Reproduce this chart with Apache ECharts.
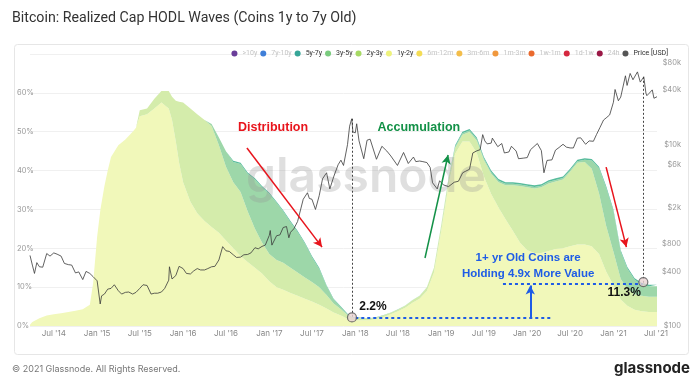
<!DOCTYPE html>
<html><head><meta charset="utf-8">
<script src="https://cdn.jsdelivr.net/npm/echarts@6/dist/echarts.min.js"></script>
<style>html,body{margin:0;padding:0;background:#fff;}#c{width:699px;height:391px;}</style>
</head><body><div id="c"></div>
<script>
// ---- data ----
const dates = ['2014-03-22','2014-04-01','2014-05-01','2014-06-01','2014-07-01','2014-08-01','2014-09-01','2014-10-01','2014-11-01','2014-12-01','2014-12-15',
'2015-01-01','2015-01-15','2015-02-01','2015-02-15','2015-03-01','2015-04-01','2015-05-01','2015-06-01','2015-06-15','2015-07-01','2015-08-01','2015-09-01','2015-10-01','2015-11-01','2015-11-15','2015-12-01','2015-12-15',
'2016-01-01','2016-02-01','2016-03-01','2016-04-01','2016-05-01','2016-06-01','2016-07-01','2016-08-01','2016-09-01','2016-10-01','2016-11-01','2016-12-01',
'2017-01-01','2017-02-01','2017-03-01','2017-04-01','2017-05-01','2017-06-01','2017-07-01','2017-08-01','2017-09-01','2017-10-01','2017-11-01','2017-12-01','2017-12-20',
'2018-01-01','2018-02-01','2018-03-01','2018-04-01','2018-05-01','2018-06-01','2018-07-01','2018-08-01','2018-09-01','2018-10-01','2018-11-01','2018-12-01',
'2019-01-01','2019-02-01','2019-03-01','2019-04-01','2019-05-01','2019-06-01','2019-07-01','2019-08-01','2019-09-01','2019-10-01','2019-11-01','2019-12-01',
'2020-01-01','2020-02-01','2020-03-01','2020-04-01','2020-05-01','2020-06-01','2020-07-01','2020-08-01','2020-09-01','2020-10-01','2020-11-01','2020-12-01',
'2021-01-01','2021-02-01','2021-03-01','2021-04-01','2021-05-01','2021-06-01','2021-07-05'];
const hodl1y2y = [0.3,1.0,2.0,2.7,3.0,3.3,3.6,3.9,4.3,5.5,11,
23,30,36,40,43.5,46.5,48,50,51,54,54.5,56,57.5,56,53,47.5,42,
37,32,29,27,25.5,24,22,20,18,16.5,15,13.5,
11.5,10,9.3,8.5,7.8,7,6.3,5.5,4.5,3.5,2.7,1.8,1.4,
1.5,1.5,1.5,1.8,2.3,3.0,3.8,4.7,6.0,7.0,9.0,13.8,
24.5,36.3,44.3,47.5,47.5,44.5,38.5,34,30.5,27.5,24.5,21.5,
19.5,18.8,18.8,19.3,19.8,20,20.5,21,21,20.5,18.5,14,
10.5,6.8,5.2,4.2,3.8,3.6,3.6];
const hodl2y3y = [0,0,0,0,0,0,0,0,0,0,0,
0,0,0,0,0,0,0,0,0,1.5,1.5,2.5,3,4.5,6,10.5,15.7,
20.5,24,25.5,26,26,22.5,19,17,16.5,13,10,8,
7,7,7,6.5,6,5.5,5,4.5,3.5,2.3,1.6,0.9,0.6,
0.6,0.5,0.4,0.4,0.4,0.4,0.4,0.5,0.6,0.7,0.9,1.1,
1.3,1.4,1.5,1.7,2.4,3.2,4.2,5.2,6.5,8.7,11.7,14.5,
16.2,16.6,16.9,17.4,17.4,17.7,19.2,21,21.2,20,15.6,11.8,
8.6,5.3,4.4,4,4,3.9,3.9];
const hodl3y5y = [0,0,0,0,0,0,0,0,0,0,0,
0,0,0,0,0,0,0,0,0,0,0,0,0,0,0,0,0,
0,0,0,0,0.5,2,4,5.2,7.2,9.7,12.7,14.2,
15.5,14.7,13.2,11.7,10.4,8.7,6.4,4.7,2.3,1,0.5,0.2,0.1,
0.1,0.1,0.1,0.1,0.1,0.1,0.1,0.1,0.1,0.1,0.1,0.1,
0.2,0.3,0.4,0.4,0.4,0.4,0.4,0.4,0.4,0.4,0.4,0.4,
0.4,0.4,0.4,0.4,0.4,0.4,0.4,0.4,0.6,2.1,6.5,9.8,
10.5,7,5.2,3.7,2.9,2.7,2.7];
const hodl5y7y = [0,0,0,0,0,0,0,0,0,0,0,
0,0,0,0,0,0,0,0,0,0,0,0,0,0,0,0,0,
0,0,0,0,0,0,0,0.3,0.3,0.3,0.3,0.3,
0.3,0.3,0.3,0.3,0.3,0.3,0.3,0.3,0.2,0.2,0.2,0.1,0.1,
0.1,0,0,0,0,0,0,0,0,0,0,0,
0,0,0.3,0.4,0.4,0.4,0.4,0.4,0.4,0.4,0.4,0.4,
0.4,0.4,0.4,0.4,0.4,0.4,0.4,0.4,0.4,0.4,0.4,0.4,
0.4,0.4,0.4,0.4,0.4,0.4,0.4];

const priceDates = ['2014-03-22','2014-04-01','2014-04-10','2014-04-20','2014-05-01','2014-05-15','2014-06-01','2014-06-15','2014-07-01','2014-07-15','2014-08-01','2014-08-15','2014-09-01','2014-09-15','2014-10-01','2014-10-15','2014-11-01','2014-11-15','2014-12-01','2014-12-15',
'2015-01-01','2015-01-14','2015-01-20','2015-02-01','2015-02-15','2015-03-01','2015-03-15','2015-04-01','2015-04-15','2015-05-01','2015-05-15','2015-06-01','2015-06-15','2015-07-01','2015-07-15','2015-08-01','2015-08-18','2015-09-01','2015-09-15','2015-10-01','2015-10-15','2015-11-01','2015-11-04','2015-11-15','2015-12-01','2015-12-15',
'2016-01-01','2016-01-15','2016-02-01','2016-02-15','2016-03-01','2016-03-15','2016-04-01','2016-04-15','2016-05-01','2016-05-15','2016-06-01','2016-06-17','2016-07-01','2016-07-15','2016-08-01','2016-08-15','2016-09-01','2016-09-15','2016-10-01','2016-10-15','2016-11-01','2016-11-15','2016-12-01','2016-12-15',
'2017-01-01','2017-01-05','2017-01-12','2017-02-01','2017-02-15','2017-03-01','2017-03-15','2017-03-25','2017-04-01','2017-04-15','2017-05-01','2017-05-25','2017-06-01','2017-06-12','2017-06-20','2017-07-01','2017-07-16','2017-08-01','2017-08-15','2017-09-01','2017-09-15','2017-10-01','2017-10-20','2017-11-01','2017-11-12','2017-11-29','2017-12-08','2017-12-17','2017-12-22',
'2018-01-01','2018-01-07','2018-01-17','2018-02-06','2018-02-20','2018-03-05','2018-04-01','2018-04-24','2018-05-15','2018-06-01','2018-06-29','2018-07-25','2018-08-14','2018-09-05','2018-09-15','2018-10-01','2018-10-15','2018-11-01','2018-11-15','2018-11-25','2018-12-15','2018-12-25',
'2019-01-10','2019-02-01','2019-02-25','2019-03-15','2019-04-02','2019-04-15','2019-05-01','2019-05-15','2019-06-01','2019-06-15','2019-06-26','2019-07-05','2019-07-15','2019-08-01','2019-08-06','2019-08-29','2019-09-15','2019-09-26','2019-10-15','2019-10-26','2019-11-15','2019-11-25','2019-12-15',
'2020-01-01','2020-01-15','2020-02-13','2020-03-01','2020-03-12','2020-03-25','2020-04-15','2020-04-30','2020-05-15','2020-06-01','2020-06-15','2020-07-01','2020-07-15','2020-08-01','2020-08-15','2020-09-05','2020-09-20','2020-10-08','2020-10-21','2020-11-05','2020-11-20','2020-12-01','2020-12-16',
'2021-01-01','2021-01-08','2021-01-22','2021-02-01','2021-02-21','2021-02-28','2021-03-13','2021-03-25','2021-04-13','2021-04-25','2021-05-10','2021-05-19','2021-05-23','2021-06-01','2021-06-15','2021-06-22','2021-07-05'];
const priceValues = [600,470,380,500,450,445,630,590,640,620,590,490,475,470,385,395,325,400,380,350,
315,175,215,225,255,260,285,245,225,235,237,225,235,260,285,280,225,230,230,237,260,320,450,330,360,455,
430,380,375,405,430,415,415,430,450,455,535,750,675,665,610,570,575,610,615,640,730,710,755,780,
1000,1130,780,990,1010,1220,1250,940,1080,1180,1420,2500,2400,2950,2550,2500,1930,2750,4200,4900,3250,4400,6000,6750,5900,10000,16000,19300,13800,
13500,17000,11000,7000,11200,11500,6900,9600,8500,7500,5900,8200,6200,7300,6500,6600,6500,6350,5600,3800,3250,4000,
3600,3450,3850,3950,4900,5100,5350,8100,8550,8800,12900,11000,10200,10400,11800,9500,10300,8100,8300,9600,8500,7000,7100,
7200,8800,10300,8600,4900,6700,6800,8700,9300,10100,9400,9200,9200,11800,11900,10100,11000,10900,12900,15500,18700,19700,21300,
29400,40600,30500,33500,57500,45000,61000,52000,63500,49000,56000,37000,34700,36700,40200,32500,33800];

const priceTicks = [100,400,800,2000,6000,10000,40000,80000];
const markerDates = ['2017-12-18','2021-05-08'];
const markerValues = [2.2, 11.3];
const legendNames = ['>10y','7y-10y','5y-7y','3y-5y','2y-3y','1y-2y','6m-12m','3m-6m','1m-3m','1w-1m','1d-1w','24h','Price [USD]'];
const legendColors = ['#6a3d9a','#3f7fd8','#36a597','#7acb7e','#a6d964','#eef27c','#f4dc55','#f3bd4a','#f0983d','#ea6a2e','#d5283f','#9a1846','#555555'];
const activeNames = ['5y-7y','3y-5y','2y-3y','1y-2y','Price [USD]'];

// ---- chart ----
const ts = d => Date.parse(d + 'T00:00:00Z');
const chart = echarts.init(document.getElementById('c'), null, {renderer:'canvas'});
const pairs = arr => dates.map((d,i)=>[ts(d), arr[i]]);
const fills = {'1y-2y':'#f1f8ba','2y-3y':'#d4ecab','3y-5y':'#9dd7a9','5y-7y':'#58bc9c'};
const stackSeries = [['1y-2y',hodl1y2y],['2y-3y',hodl2y3y],['3y-5y',hodl3y5y],['5y-7y',hodl5y7y]].map(([n,arr])=>({
  name:n, type:'line', stack:'hodl', data:pairs(arr), symbol:'none', showSymbol:false,
  color: legendColors[legendNames.indexOf(n)],
  lineStyle:{width:0}, areaStyle:{color:fills[n], opacity:1}, z:2, silent:true
}));
const dummySeries = legendNames.filter(n=>!activeNames.includes(n)).map(n=>({
  name:n, type:'line', data:[], color: legendColors[legendNames.indexOf(n)]
}));
const font = 'Liberation Sans, Arial, sans-serif';
const red = '#e8141c', green='#139147', blue='#1e5ce6';
function seg(a,b,color,opts){
  opts = opts||{};
  const ls = {color:color, width:opts.width||1.5, type:opts.type||'solid'};
  return [{coord:[ts(a[0]),a[1]], symbol:'none', lineStyle:ls},{coord:[ts(b[0]),b[1]], symbol:opts.arrow?'arrow':'none', symbolSize:opts.arrow?[7,9]:0, lineStyle:ls}];
}
function txt(coord, text, color, size){
  return {coord:[ts(coord[0]),coord[1]], symbol:'circle', symbolSize:1, itemStyle:{color:'rgba(0,0,0,0)'},
    label:{show:true, position:'inside', formatter:text, color:color, fontSize:size, fontWeight:'bold', fontFamily:font}};
}
const MON = ['Jan','Feb','Mar','Apr','May','Jun','Jul','Aug','Sep','Oct','Nov','Dec'];
const DAY = 86400000;

const option = {
  animation:false,
  backgroundColor:'#fff',
  textStyle:{fontFamily:'Inter, Roboto, sans-serif'},
  grid:{left:30, right:42, top:54, bottom:65},
  legend:{
    top:45, right:26, icon:'circle', itemWidth:6, itemHeight:6, itemGap:3,
    textStyle:{fontSize:7, fontFamily:'Roboto, sans-serif'},
    selectedMode:false,
    data: legendNames.map(n=>({name:n, textStyle:{color: activeNames.includes(n)?'#333':'#c4c4c4'}}))
  },
  xAxis:{
    type:'time', min:ts(dates[0]), max:ts(dates[dates.length-1]),
    minInterval:182*DAY, maxInterval:184*DAY, splitNumber:14,
    axisLine:{show:false}, axisTick:{show:false}, splitLine:{show:false},
    axisLabel:{
      margin:4, fontSize:8, color:'#888', showMinLabel:false, showMaxLabel:false,
      formatter: v => { const d=new Date(v); return MON[d.getUTCMonth()]+" '"+String(d.getUTCFullYear()).slice(2); }
    }
  },
  yAxis:[
    {type:'value', min:0, max:70, interval:10, position:'left',
     axisLine:{show:false}, axisTick:{show:false},
     splitLine:{lineStyle:{color:'#f0f0f0', width:1}},
     axisLabel:{formatter:'{value}%', fontSize:7.5, color:'#999', align:'left', margin:13, showMaxLabel:false}},
    {type:'log', logBase:10, min:100, max:100000, position:'right',
     axisLine:{show:false}, axisTick:{show:false}, splitLine:{show:false},
     axisLabel:{customValues: priceTicks, fontSize:7.5, color:'#999', align:'right', margin:24,
       formatter: v => v>=1000 ? '$'+Math.round(v/1000)+'k' : '$'+Math.round(v)}}
  ],
  series:[
    ...stackSeries,
    ...dummySeries,
    {name:'Price [USD]', type:'line', yAxisIndex:1, data:priceDates.map((d,i)=>[ts(d),priceValues[i]]),
     symbol:'none', color:'#555', lineStyle:{color:'#3a3a3a', width:0.8}, z:5, silent:true,
     markLine:{silent:true, animation:false, label:{show:false}, symbol:['none','none'],
       data:[
         seg([markerDates[0],19300],[markerDates[0],124],'#444',{width:1,type:[2,2]}),
         seg([markerDates[1],56000],[markerDates[1],300],'#444',{width:1,type:[2,2]})
       ]}
    },
    {name:'markers', type:'scatter', yAxisIndex:0, data:markerDates.map((d,i)=>[ts(d),markerValues[i]]),
     symbolSize:9, itemStyle:{color:'#ead3d3', borderColor:'#555', borderWidth:1.2}, z:8, silent:true,
     markLine:{silent:true, animation:false, label:{show:false}, symbol:['none','none'], z:7,
       data:[
         seg(['2016-09-28',45.8],['2017-08-13',20.3],red,{arrow:true}),
         seg(['2018-10-24',17.5],['2019-01-30',44.0],green,{arrow:true}),
         seg(['2020-12-01',40.9],['2021-02-25',20.3],red,{arrow:true}),
         seg(['2018-01-01',2.2],['2020-04-08',2.2],blue,{width:2,type:[3,3]}),
         seg(['2019-09-20',10.9],['2021-05-05',10.9],blue,{width:2,type:[3,3]}),
         seg(['2020-01-14',2.2],['2020-01-14',10.4],blue,{width:2,arrow:true})
       ]},
     markPoint:{silent:true, animation:false, z:9,
       data:[
         txt(['2017-01-17',51.0],'Distribution',red,12.5),
         txt(['2018-09-28',51.0],'Accumulation',green,12.5),
         txt(['2020-01-05',17.6],'1+ yr Old Coins are',blue,11.5),
         txt(['2020-01-05',13.4],'Holding 4.9x More Value',blue,11.5),
         txt(['2018-03-17',4.9],'2.2%','#111',12),
         txt(['2021-02-16',8.7],'11.3%','#111',12)
       ]}
    }
  ],
  graphic:[
    {type:'rect', left:12, top:42, z:-1, shape:{width:674, height:310, r:3}, style:{fill:'none', stroke:'#e6e6e6', lineWidth:1}},
    {type:'text', left:12, top:11, style:{text:'Bitcoin: Realized Cap HODL Waves (Coins 1y to 7y Old)', font:'14.2px Roboto, sans-serif', fill:'#333'}},
    {type:'text', left:246, top:154, z:4, style:{text:'glassnode', font:'600 48px Inter, sans-serif', fill:'rgba(150,150,150,0.3)'}},
    {type:'text', left:12, top:365, style:{text:'\u00a9 2021 Glassnode. All Rights Reserved.', font:'9px Inter, sans-serif', fill:'#777'}},
    {type:'text', right:9, top:361, style:{text:'glassnode', font:'bold 15px Inter, sans-serif', fill:'#222'}}
  ]
};
chart.setOption(option);
</script></body></html>
